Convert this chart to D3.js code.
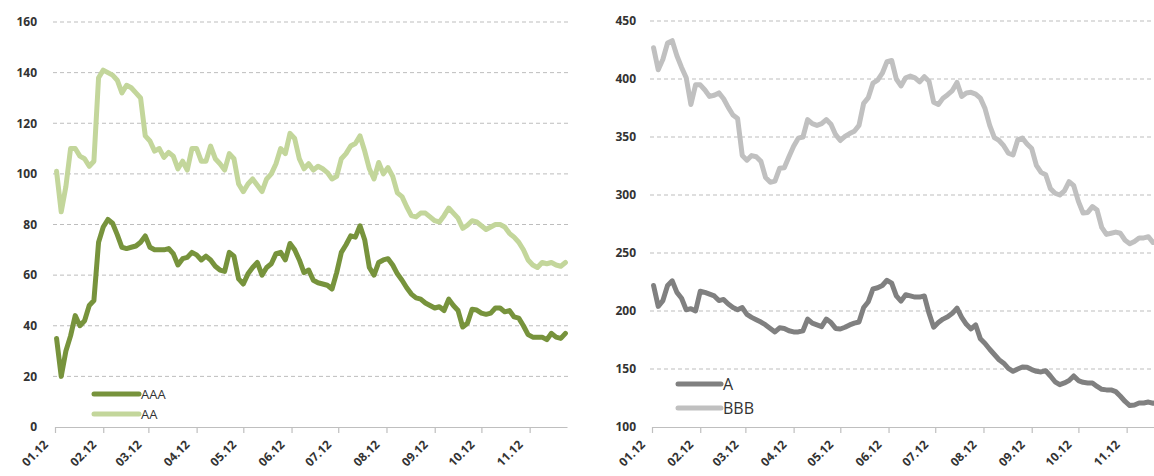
<!DOCTYPE html>
<html>
<head>
<meta charset="utf-8">
<script src="https://cdn.jsdelivr.net/npm/d3@7/dist/d3.min.js"></script>
<style>
  html, body { margin: 0; padding: 0; background: #fff; }
  svg { display: block; }
  text { font-family: "Open Sans", "Noto Sans", sans-serif; fill: #333; }
</style>
</head>
<body>
<svg id="chart" width="1154" height="476"></svg>
<script>
// Observation dates (every third day of 2012)
const dates = [
  "2012-01-02","2012-01-05","2012-01-08","2012-01-11","2012-01-14","2012-01-17","2012-01-20","2012-01-23","2012-01-26","2012-01-29",
  "2012-02-01","2012-02-04","2012-02-07","2012-02-10","2012-02-13","2012-02-16","2012-02-19","2012-02-22","2012-02-25","2012-02-28",
  "2012-03-02","2012-03-05","2012-03-08","2012-03-11","2012-03-14","2012-03-17","2012-03-20","2012-03-23","2012-03-26","2012-03-29",
  "2012-04-01","2012-04-04","2012-04-07","2012-04-10","2012-04-13","2012-04-16","2012-04-19","2012-04-22","2012-04-25","2012-04-28",
  "2012-05-01","2012-05-04","2012-05-07","2012-05-10","2012-05-13","2012-05-16","2012-05-19","2012-05-22","2012-05-25","2012-05-28",
  "2012-05-31","2012-06-03","2012-06-06","2012-06-09","2012-06-12","2012-06-15","2012-06-18","2012-06-21","2012-06-24","2012-06-27",
  "2012-06-30","2012-07-03","2012-07-06","2012-07-09","2012-07-12","2012-07-15","2012-07-18","2012-07-21","2012-07-24","2012-07-27",
  "2012-07-30","2012-08-02","2012-08-05","2012-08-08","2012-08-11","2012-08-14","2012-08-17","2012-08-20","2012-08-23","2012-08-26",
  "2012-08-29","2012-09-01","2012-09-04","2012-09-07","2012-09-10","2012-09-13","2012-09-16","2012-09-19","2012-09-22","2012-09-25",
  "2012-09-28","2012-10-01","2012-10-04","2012-10-07","2012-10-10","2012-10-13","2012-10-16","2012-10-19","2012-10-22","2012-10-25",
  "2012-10-28","2012-10-31","2012-11-03","2012-11-06","2012-11-09","2012-11-12","2012-11-15","2012-11-18","2012-11-21","2012-11-24"
];

// Left panel series
const aaa = [
  35,20,30,36,44,40,42,48,50,73,
  79,82,80.5,76,71,70.5,71,71.5,73,75.5,
  71,70,70,70,70.5,68.5,64,66.5,67,69,
  68,66,67.5,66,63.5,62,61.5,69,67.5,58.5,
  56.5,60.5,63,65,60,63,64.5,68.5,69,66,
  72.5,70,66,61,62,58,57,56.5,56,54.5,
  61,69,72,75.5,75,79.5,74,63,60,65,
  66,66.5,64,60.5,58,55,52.5,51,50.5,49,
  48,47,47.5,46,50.5,48,46,39.5,41,46.5,
  46.2,45,44.5,45,47,47,45.5,46,43.5,43,
  40,36.5,35.5,35.5,35.5,34.5,37,35.5,35,37
];
const aa = [
  101,85,95,110,110,107,106,103,105,138,
  141,140,139,137,132,135,134,132,130,115,
  113,109,110,106.5,108.5,107,102,105,101.5,110,
  110,105,105,111,106,104,101.5,108,106,96,
  93,96,98,95.5,93,98,100,104,110,108,
  116,114,106,102,104,101.5,103,102,100.5,98,
  99,106,108,111,112,115,109,102,98,104.5,
  100,102.5,99,92.5,91,87,83.5,83,84.5,84.5,
  83,81.5,81,83.5,86.5,84.5,82.5,78.5,79.7,81.5,
  81,79.5,78,79,80,80,79,76.5,75,73,
  70,66,64,63,65,64.5,65,64,63.5,65
];

// Right panel series
const a = [
  222,204,209,222,226,216,211,201,202,200,
  217,216,214.5,213,209,210,206,203,201,203,
  197,194.5,192.5,190.5,188,185,182,185.5,185,183,
  182,182,183,193,189.5,188,186.5,193,190,185,
  184.5,186,188,189.5,190.5,203,208,219,220,222,
  226.5,224,213,208.5,214,213,212,212,213,198,
  186,190,193,195,198,202.5,194.5,188.5,184.5,188,
  176,172,167,162.5,158,155,150.5,148,150,151.7,
  151.5,149.5,148,147.5,148.5,144,139,136.5,138,140,
  144,140,138.5,138,138,135,132.5,132,132,130.5,
  126.5,122,118.5,119,120.7,120.7,121.5,120.5,121,121
];
const bbb = [
  427,408,417,431,433,420,410,401,378,395,
  395,390.5,385,386,388,383,375.5,369,366,334,
  330,334,333,329,315,311,312,323,323.5,333,
  342,349,350,365,361.5,360,361.5,365,361,352,
  347,350.5,353,355,360,379,384,396.5,399,405,
  415,416,400,394,401,402.5,401,397.5,402,398,
  380,378,383.5,386.5,390,397,385,388,388.5,387,
  383.5,374.5,360,349.5,347,342.5,336,334.5,347.5,349,
  344,340,325.5,319.5,317.5,305.5,301.5,300,303.5,311.5,
  308,294.5,284.5,285,290,287,272,266,267,268,
  267,261,258,260,263,263,264,259,261,262
];

// Month ticks and axis tick values
const monthTicks = ["2012-01-01","2012-02-01","2012-03-01","2012-04-01","2012-05-01","2012-06-01",
                    "2012-07-01","2012-08-01","2012-09-01","2012-10-01","2012-11-01"];
const leftYTicks = [0, 20, 40, 60, 80, 100, 120, 140, 160];
const rightYTicks = [100, 150, 200, 250, 300, 350, 400, 450];

const parse = d3.timeParse("%Y-%m-%d");
const fmt = d3.timeFormat("%m.%y");
const xDates = dates.map(parse);
const tickDates = monthTicks.map(parse);
const xDomain = [parse("2012-01-01"), parse("2012-11-25")];

const svg = d3.select("#chart");

function panel(opts) {
  const x = d3.scaleTime().domain(xDomain).range([opts.x0, opts.x1]);
  const y = d3.scaleLinear().domain(opts.yDomain).range([opts.yBottom, opts.yTop]);
  const g = svg.append("g");

  // dashed horizontal gridlines
  g.append("g").selectAll("line")
    .data(opts.yTicks.filter(v => v !== opts.yDomain[0]))
    .join("line")
    .attr("x1", opts.x0 - 2).attr("x2", opts.x1 + 1)
    .attr("y1", d => y(d)).attr("y2", d => y(d))
    .attr("stroke", "#bdbdbd").attr("stroke-width", 1)
    .attr("stroke-dasharray", "4,3");

  // y axis labels
  const yAxis = d3.axisLeft(y).tickValues(opts.yTicks).tickSize(0).tickPadding(0);
  const ya = g.append("g").attr("transform", `translate(${opts.yLabelX},0)`).call(yAxis);
  ya.select(".domain").remove();
  ya.selectAll("text")
    .style("font-family", "'Open Sans', sans-serif")
    .style("font-size", "12px").style("font-weight", "700").attr("fill", "#3a3a3a");

  // x axis with month ticks
  const xAxis = d3.axisBottom(x).tickValues(tickDates).tickFormat(fmt).tickSizeInner(6).tickSizeOuter(0);
  const xa = g.append("g").attr("transform", `translate(0,${opts.yBottom})`).call(xAxis);
  xa.select(".domain").attr("stroke", "#bfbfbf").attr("stroke-width", 1.2);
  xa.selectAll(".tick line").attr("stroke", "#bfbfbf").attr("stroke-width", 1.2);
  xa.selectAll("text")
    .style("font-family", "'Open Sans', sans-serif")
    .style("font-size", "12px").style("font-weight", "700").attr("fill", "#3a3a3a")
    .attr("text-anchor", "end")
    .attr("dy", "0")
    .attr("transform", "translate(-13,12) rotate(-45)");

  // series lines
  const line = d3.line().x((d, i) => x(xDates[i])).y(d => y(d)).curve(d3.curveLinear);
  opts.series.forEach(s => {
    g.append("path").datum(s.values)
      .attr("d", line)
      .attr("fill", "none")
      .attr("stroke", s.color)
      .attr("stroke-width", 5)
      .attr("stroke-linejoin", "round")
      .attr("stroke-linecap", "round");
  });

  // legend
  opts.series.forEach((s, i) => {
    const ly = opts.legendY + i * opts.legendStep;
    g.append("line")
      .attr("x1", opts.legendX).attr("x2", opts.legendX + opts.legendLen)
      .attr("y1", ly).attr("y2", ly)
      .attr("stroke", s.color).attr("stroke-width", 5).attr("stroke-linecap", "round");
    g.append("text")
      .attr("x", opts.legendX + opts.legendLen + 2).attr("y", ly)
      .attr("dy", "0.35em")
      .style("font-size", opts.legendFont + "px")
      .attr("fill", "#222")
      .text(s.name);
  });
}

panel({
  x0: 55, x1: 567, yTop: 22, yBottom: 427, yDomain: [0, 160], yTicks: leftYTicks, yLabelX: 37,
  series: [
    { name: "AAA", values: aaa, color: "#77933c" },
    { name: "AA", values: aa, color: "#c3d69b" }
  ],
  legendX: 94, legendLen: 45, legendY: 394, legendStep: 20, legendFont: 13
});

panel({
  x0: 652, x1: 1164, yTop: 21, yBottom: 427, yDomain: [100, 450], yTicks: rightYTicks, yLabelX: 636,
  series: [
    { name: "A", values: a, color: "#808080" },
    { name: "BBB", values: bbb, color: "#c0c0c0" }
  ],
  legendX: 678, legendLen: 43, legendY: 384, legendStep: 24, legendFont: 16
});
</script>
</body>
</html>
